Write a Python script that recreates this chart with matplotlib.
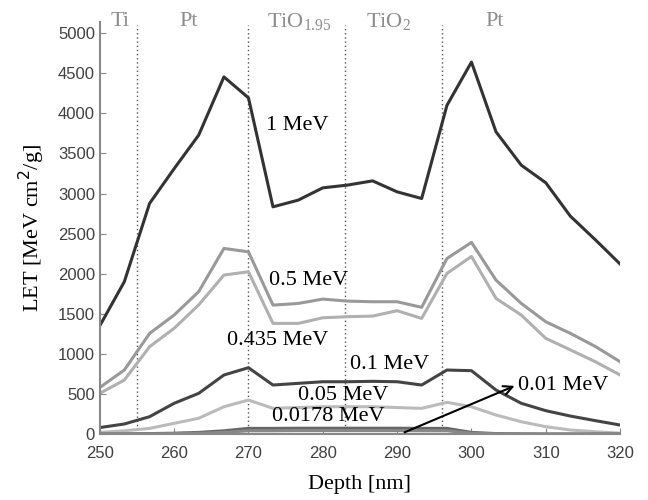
"""
LET vs depth through the Ti / Pt / TiO(1.95) / TiO2 / Pt stack.
"""
import matplotlib
matplotlib.use('Agg')
from matplotlib import pyplot as plt

# depth grid (nm)
depth = [250.0, 253.3, 256.7, 260.0, 263.3, 266.7, 270.0, 273.3, 276.7, 280.0, 283.3,
         286.7, 290.0, 293.3, 296.7, 300.0, 303.3, 306.7, 310.0, 313.3, 316.7, 320.0]

# LET values [MeV cm2/g]
let_1 = [1350, 1900, 2877, 3310, 3728, 4455, 4194, 2834, 2918, 3071, 3105,
         3158, 3021, 2938, 4100, 4640, 3770, 3354, 3134, 2718, 2420, 2120]
let_05 = [580, 798, 1255, 1484, 1775, 2315, 2273, 1608, 1629, 1683, 1658,
          1650, 1650, 1580, 2190, 2390, 1920, 1629, 1400, 1256, 1090, 901]
let_0435 = [507, 673, 1089, 1318, 1610, 1983, 2024, 1380, 1380, 1450, 1463,
            1471, 1538, 1442, 2003, 2215, 1692, 1484, 1193, 1050, 900, 736]
let_01 = [80, 125, 216, 383, 507, 736, 827, 611, 632, 652, 652,
          657, 652, 611, 798, 790, 549, 383, 291, 224, 166, 112]
let_005 = [20, 40, 70, 133, 196, 340, 424, 320, 330, 340, 340,
           340, 330, 320, 395, 340, 237, 153, 91, 50, 28, 10]
let_00178 = [0, 2, 5, 10, 20, 40, 70, 70, 72, 72, 72,
             72, 72, 70, 70, 20, 5, 2, 0, 0, 0, 0]
let_001 = [0, 0, 2, 5, 10, 20, 40, 40, 42, 42, 42,
           42, 42, 40, 40, 10, 3, 1, 0, 0, 0, 0]

# layer boundaries and labels
boundaries = [255, 270, 283, 296]
layer_names = ['Ti', 'Pt', r'TiO$_{1.95}$', r'TiO$_2$', 'Pt']
layer_pos = [252.7, 261.9, 276.8, 288.8, 303.1]

fig = plt.figure(figsize=(6.48, 5.0), dpi=100)
ax = fig.add_axes([0.154, 0.132, 0.803, 0.824])

serif = 'Liberation Serif'
plt.rcParams['mathtext.fontset'] = 'custom'
plt.rcParams['mathtext.rm'] = serif

for b in boundaries:
	ax.plot([b, b], [0, 5100], color='#555555', lw=1, ls=(0, (1, 2)))

ax.plot(depth, let_1, color='#333333', lw=2.2)
ax.plot(depth, let_05, color='#999999', lw=2.2)
ax.plot(depth, let_0435, color='#b0b0b0', lw=2.2)
ax.plot(depth, let_01, color='#444444', lw=2.2)
ax.plot(depth, let_005, color='#bbbbbb', lw=2.2)
ax.plot(depth, let_00178, color='#666666', lw=2.2)
ax.plot(depth, let_001, color='#888888', lw=2.2)

ax.set_xlim(250, 320)
ax.set_ylim(0, 5140)
ax.set_xticks(range(250, 321, 10))
ax.set_yticks(range(0, 5001, 500))
ax.tick_params(direction='in', length=4, color='#888888', labelcolor='#404040',
               labelsize=12)
ax.tick_params(axis='x', pad=9)
for lab in ax.get_xticklabels() + ax.get_yticklabels():
	lab.set_fontfamily('Liberation Sans')
for s in ['top', 'right']:
	ax.spines[s].set_visible(False)
for s in ['left', 'bottom']:
	ax.spines[s].set_color('#888888')
	ax.spines[s].set_linewidth(1.5)

ax.set_xlabel('Depth [nm]', fontsize=16, family=serif, labelpad=10)
ax.set_ylabel(r'LET [MeV cm$^2$/g]', fontsize=16, family=serif, labelpad=8)

for name, x in zip(layer_names, layer_pos):
	ax.text(x, 5140, name, fontsize=16, family=serif, color='#8c8c8c',
	        ha='center', va='center')

# curve labels
tkw = dict(fontsize=16, family=serif, color='black', va='center', ha='left')
ax.text(272.3, 3853, '1 MeV', **tkw)
ax.text(272.7, 1920, '0.5 MeV', **tkw)
ax.text(267.1, 1172, '0.435 MeV', **tkw)
ax.text(283.7, 873, '0.1 MeV', **tkw)
ax.text(276.6, 486, '0.05 MeV', **tkw)
ax.text(273.2, 216, '0.0178 MeV', **tkw)
ax.text(306.2, 599, '0.01 MeV', **tkw)
ax.annotate('', xy=(305.8, 600), xytext=(291, 21),
            arrowprops=dict(arrowstyle='->', color='black', lw=1.5,
                            mutation_scale=16, shrinkA=0, shrinkB=0))

plt.savefig('out.png', dpi=100)
